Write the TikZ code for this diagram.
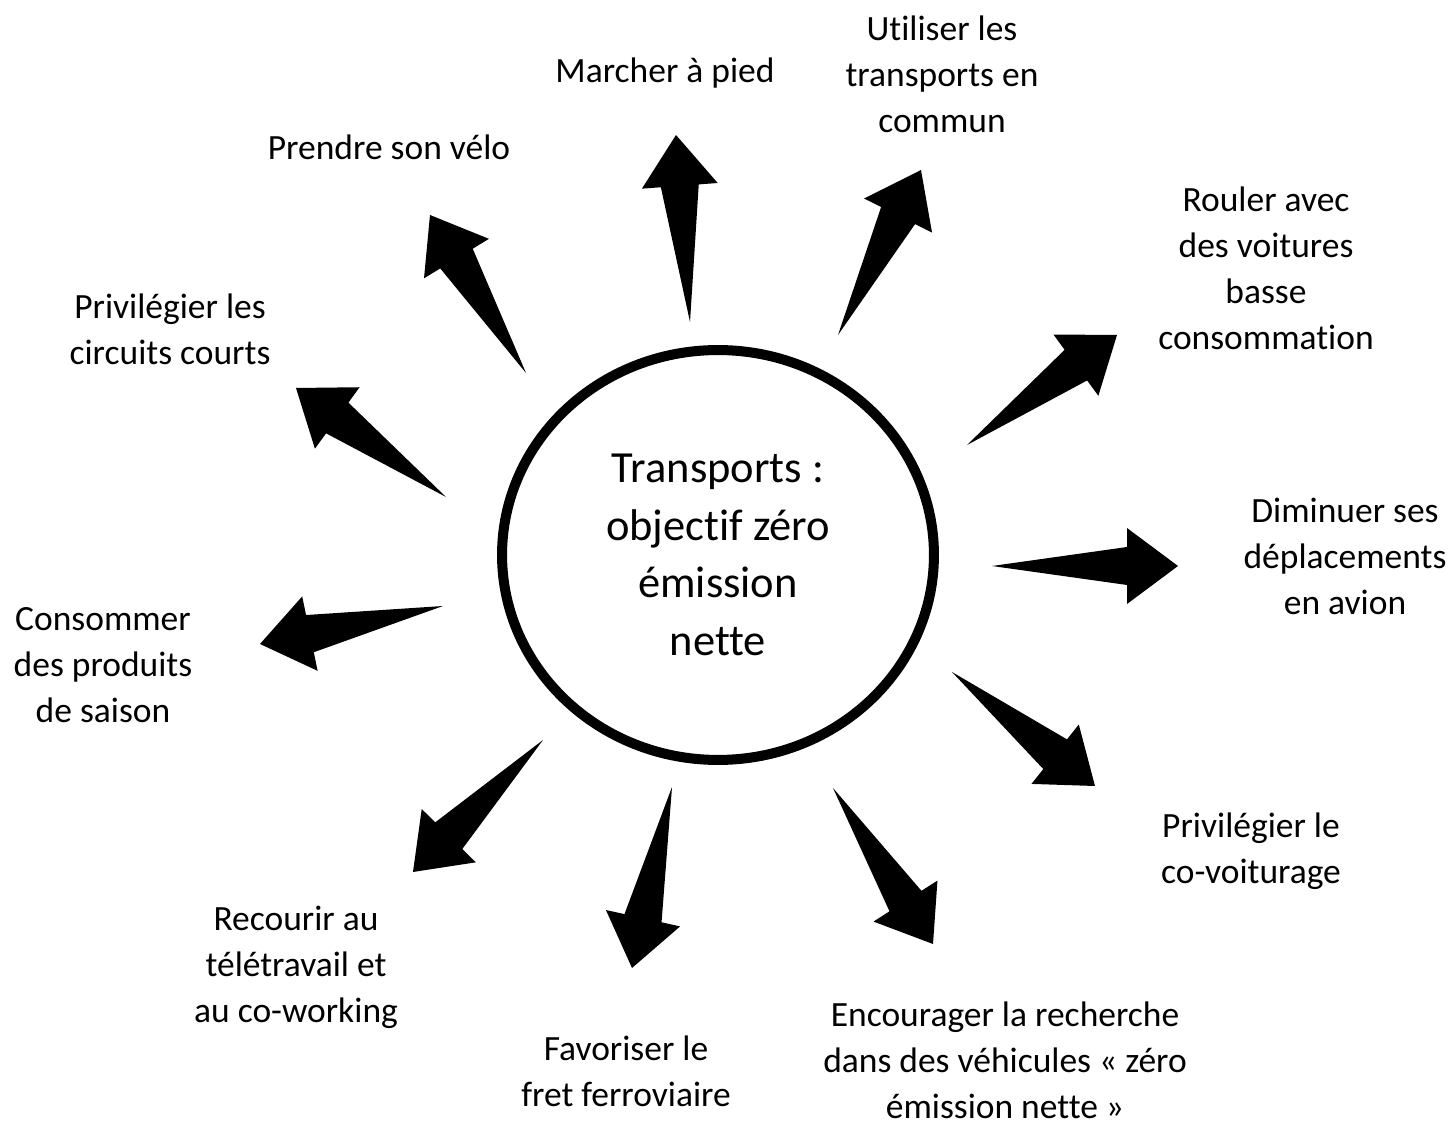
\documentclass[tikz,border=0pt]{standalone}
\usepackage{fontspec}
\setmainfont{Carlito}[Ligatures=NoCommon]
\usetikzlibrary{calc, shapes.geometric}

\tikzset{
	idea/.style={align=center, inner sep=0pt, font=\fontsize{20.2}{26.2}\selectfont},
	hub/.style={draw, ellipse, line width=5.7pt, minimum width=8.64cm, minimum height=8.2cm, inner sep=0pt, align=center, font=\fontsize{25.3}{32.7}\selectfont}
}
\newcommand{\dart}[2]{%
	\coordinate (nk) at ($(#2)!1.02cm!(#1)$);
	\fill (#1) -- ($(nk)!0.38cm!90:(#2)$) -- ($(nk)!0.76cm!90:(#2)$) -- (#2)
		-- ($(nk)!0.76cm!-90:(#2)$) -- ($(nk)!0.38cm!-90:(#2)$) -- cycle;
}

\begin{document}
\begin{tikzpicture}[x=0.02cm, y=-0.02cm]
	\useasboundingbox (0,0) rectangle (1451,1124);
	
	\coordinate (Walk1)  at (690,322);
	\coordinate (Walk2)  at (676,135);
	\coordinate (Bus1)   at (838,335);
	\coordinate (Bus2)   at (921,170);
	\coordinate (Car1)   at (967,445);
	\coordinate (Car2)   at (1117,335);
	\coordinate (Fly1)   at (992,566);
	\coordinate (Fly2)   at (1178,566);
	\coordinate (Pool1)  at (952,672);
	\coordinate (Pool2)  at (1095,786);
	\coordinate (Lab1)   at (833,788);
	\coordinate (Lab2)   at (933,944);
	\coordinate (Rail1)  at (672,787);
	\coordinate (Rail2)  at (632,968);
	\coordinate (Home1)  at (543,740);
	\coordinate (Home2)  at (413,872);
	\coordinate (Food1)  at (443,606);
	\coordinate (Food2)  at (260,644);
	\coordinate (Short1) at (446,497);
	\coordinate (Short2) at (296,388);
	\coordinate (Bike1)  at (526,373);
	\coordinate (Bike2)  at (430,215);
	
	\node[hub] (C) at (718,555) {Transports :\\objectif zéro\\émission\\nette};
	
	\node[idea] (Walk)  at (665,73)    {Marcher à pied};
	\node[idea] (Bus)   at (942,74)    {Utiliser les\\transports en\\commun};
	\node[idea] (Car)   at (1266,268)  {Rouler avec\\des voitures\\basse\\consommation};
	\node[idea] (Fly)   at (1345,556)  {Diminuer ses\\déplacements\\en avion};
	\node[idea] (Pool)  at (1251,851)  {Privilégier le\\co-voiturage};
	\node[idea] (Lab)   at (1005,1060) {Encourager la recherche\\dans des véhicules « zéro\\émission nette »};
	\node[idea] (Rail)  at (626,1071)  {Favoriser le\\fret ferroviaire};
	\node[idea] (Home)  at (296,967)   {Recourir au\\télétravail et\\au co-working};
	\node[idea] (Food)  at (103,665)   {Consommer\\des produits\\de saison};
	\node[idea] (Short) at (170,329)   {Privilégier les\\circuits courts};
	\node[idea] (Bike)  at (389,147)   {Prendre son vélo};
	
	\dart{Walk1}{Walk2}
	\dart{Bus1}{Bus2}
	\dart{Car1}{Car2}
	\dart{Fly1}{Fly2}
	\dart{Pool1}{Pool2}
	\dart{Lab1}{Lab2}
	\dart{Rail1}{Rail2}
	\dart{Home1}{Home2}
	\dart{Food1}{Food2}
	\dart{Short1}{Short2}
	\dart{Bike1}{Bike2}
\end{tikzpicture}
\end{document}
